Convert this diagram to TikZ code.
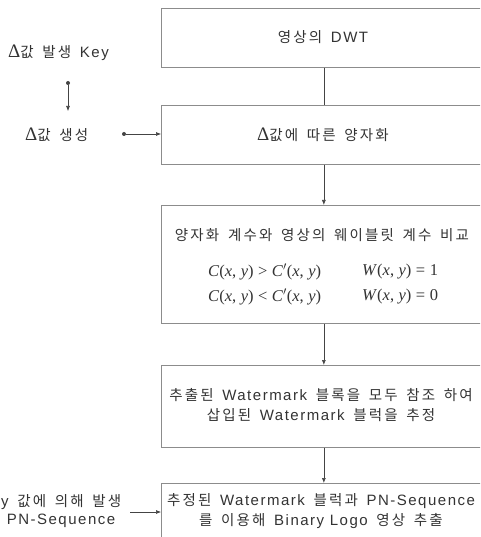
\documentclass[tikz,border=0pt]{standalone}
\usepackage{fontspec}
\usetikzlibrary{arrows.meta}
\newfontfamily\kr{Noto Sans CJK KR}[LetterSpace=15, WordSpace=1.6]
\newfontfamily\la{Liberation Sans}[LetterSpace=10]
\newfontfamily\tms{Liberation Serif}
\definecolor{txt}{HTML}{333333}
\definecolor{edge}{HTML}{8C8C8C}
\definecolor{ln}{HTML}{444444}
\newcommand{\dlt}{{\tms\fontsize{19}{19}\selectfont Δ}}
\newcommand{\lat}[1]{{\la\fontsize{15}{20}\selectfont #1}}
\newcommand{\iv}[1]{\textit{#1}}
\newcommand{\rs}{\hspace{4.5pt}}
\tikzset{
  x=1pt, y=-1pt,
  box/.style={draw=edge, line width=0.7pt, anchor=north west, inner sep=0, minimum width=325pt},
  lbl/.style={font=\kr\fontsize{14.5}{20}\selectfont, text=txt, inner sep=0, align=center},
  mth/.style={font=\tms\fontsize{16.5}{20}\selectfont, text=txt, inner sep=0, anchor=west},
  arr/.style={draw=ln, line width=0.6pt, -{Latex[length=5pt,width=4pt]}},
  plain/.style={draw=ln, line width=0.6pt},
  dot/.style={circle, fill=ln, inner sep=0, minimum size=4pt},
}
\begin{document}
\begin{tikzpicture}
\clip (0,0) rectangle (480,537);
\fill[white] (0,0) rectangle (480,537);
% boxes
\node[box, minimum height=59pt] (b1) at (161,8) {};
\node[box, minimum height=59pt] (b2) at (161,105) {};
\node[box, minimum height=118pt] (b3) at (161,205) {};
\node[box, minimum height=82pt] (b4) at (161,365) {};
\node[box, minimum height=70pt] (b5) at (161,483) {};
% box texts
\node[lbl] (t1) at (323,37) {영상의 \lat{DWT}};
\node[lbl] (t2) at (323,135) {\dlt 값에 따른 양자화};
\node[lbl] (t3) at (322,235) {양자화 계수와 영상의 웨이블릿 계수 비교};
\node[mth] (m1) at (208,272) {\iv{C}(\iv{x},\rs\iv{y})\rs>\rs\iv{C}$'$(\iv{x},\rs\iv{y})};
\node[mth] (m2) at (208,297) {\iv{C}(\iv{x},\rs\iv{y})\rs<\rs\iv{C}$'$(\iv{x},\rs\iv{y})};
\node[mth] (w1) at (362,272) {\iv{W}(\iv{x},\rs\iv{y})\rs=\rs1};
\node[mth] (w2) at (362,297) {\iv{W}(\iv{x},\rs\iv{y})\rs=\rs0};
\node[lbl] (t4) at (321,405) {추출된 \lat{Watermark} 블록을 모두 참조 하여\\삽입된 \lat{Watermark} 블럭을 추정};
\node[lbl] (t5) at (321,511.5) {추정된 \lat{Watermark} 블럭과 \lat{PN-Sequence}\\를 이용해 \lat{Binary Logo} 영상 추출};
% left side
\node[lbl, anchor=west] (k1) at (8,53) {\dlt 값 발생 \lat{Key}};
\node[dot] (d1) at (68,83) {};
\coordinate (a1) at (68,111);
\node[lbl, anchor=west] (k2) at (25,135) {\dlt 값 생성};
\node[dot] (d2) at (124,134) {};
\node[lbl, anchor=west] (k3) at (1,502) {\lat{y} 값에 의해 발생};
\node[lbl] (k4) at (61,521) {\lat{PN-Sequence}};
\coordinate (s3) at (130,512);
% connectors
\draw[plain] (b1.south) -- (b2.north);
\draw[arr] (b2.south) -- (b3.north);
\draw[arr] (b3.south) -- (b4.north);
\draw[arr] (b4.south) -- (b5.north);
\draw[arr] (d1) -- (a1);
\draw[arr] (d2) -- (d2 -| b2.west);
\draw[arr] (s3) -- (s3 -| b5.west);
\end{tikzpicture}
\end{document}
